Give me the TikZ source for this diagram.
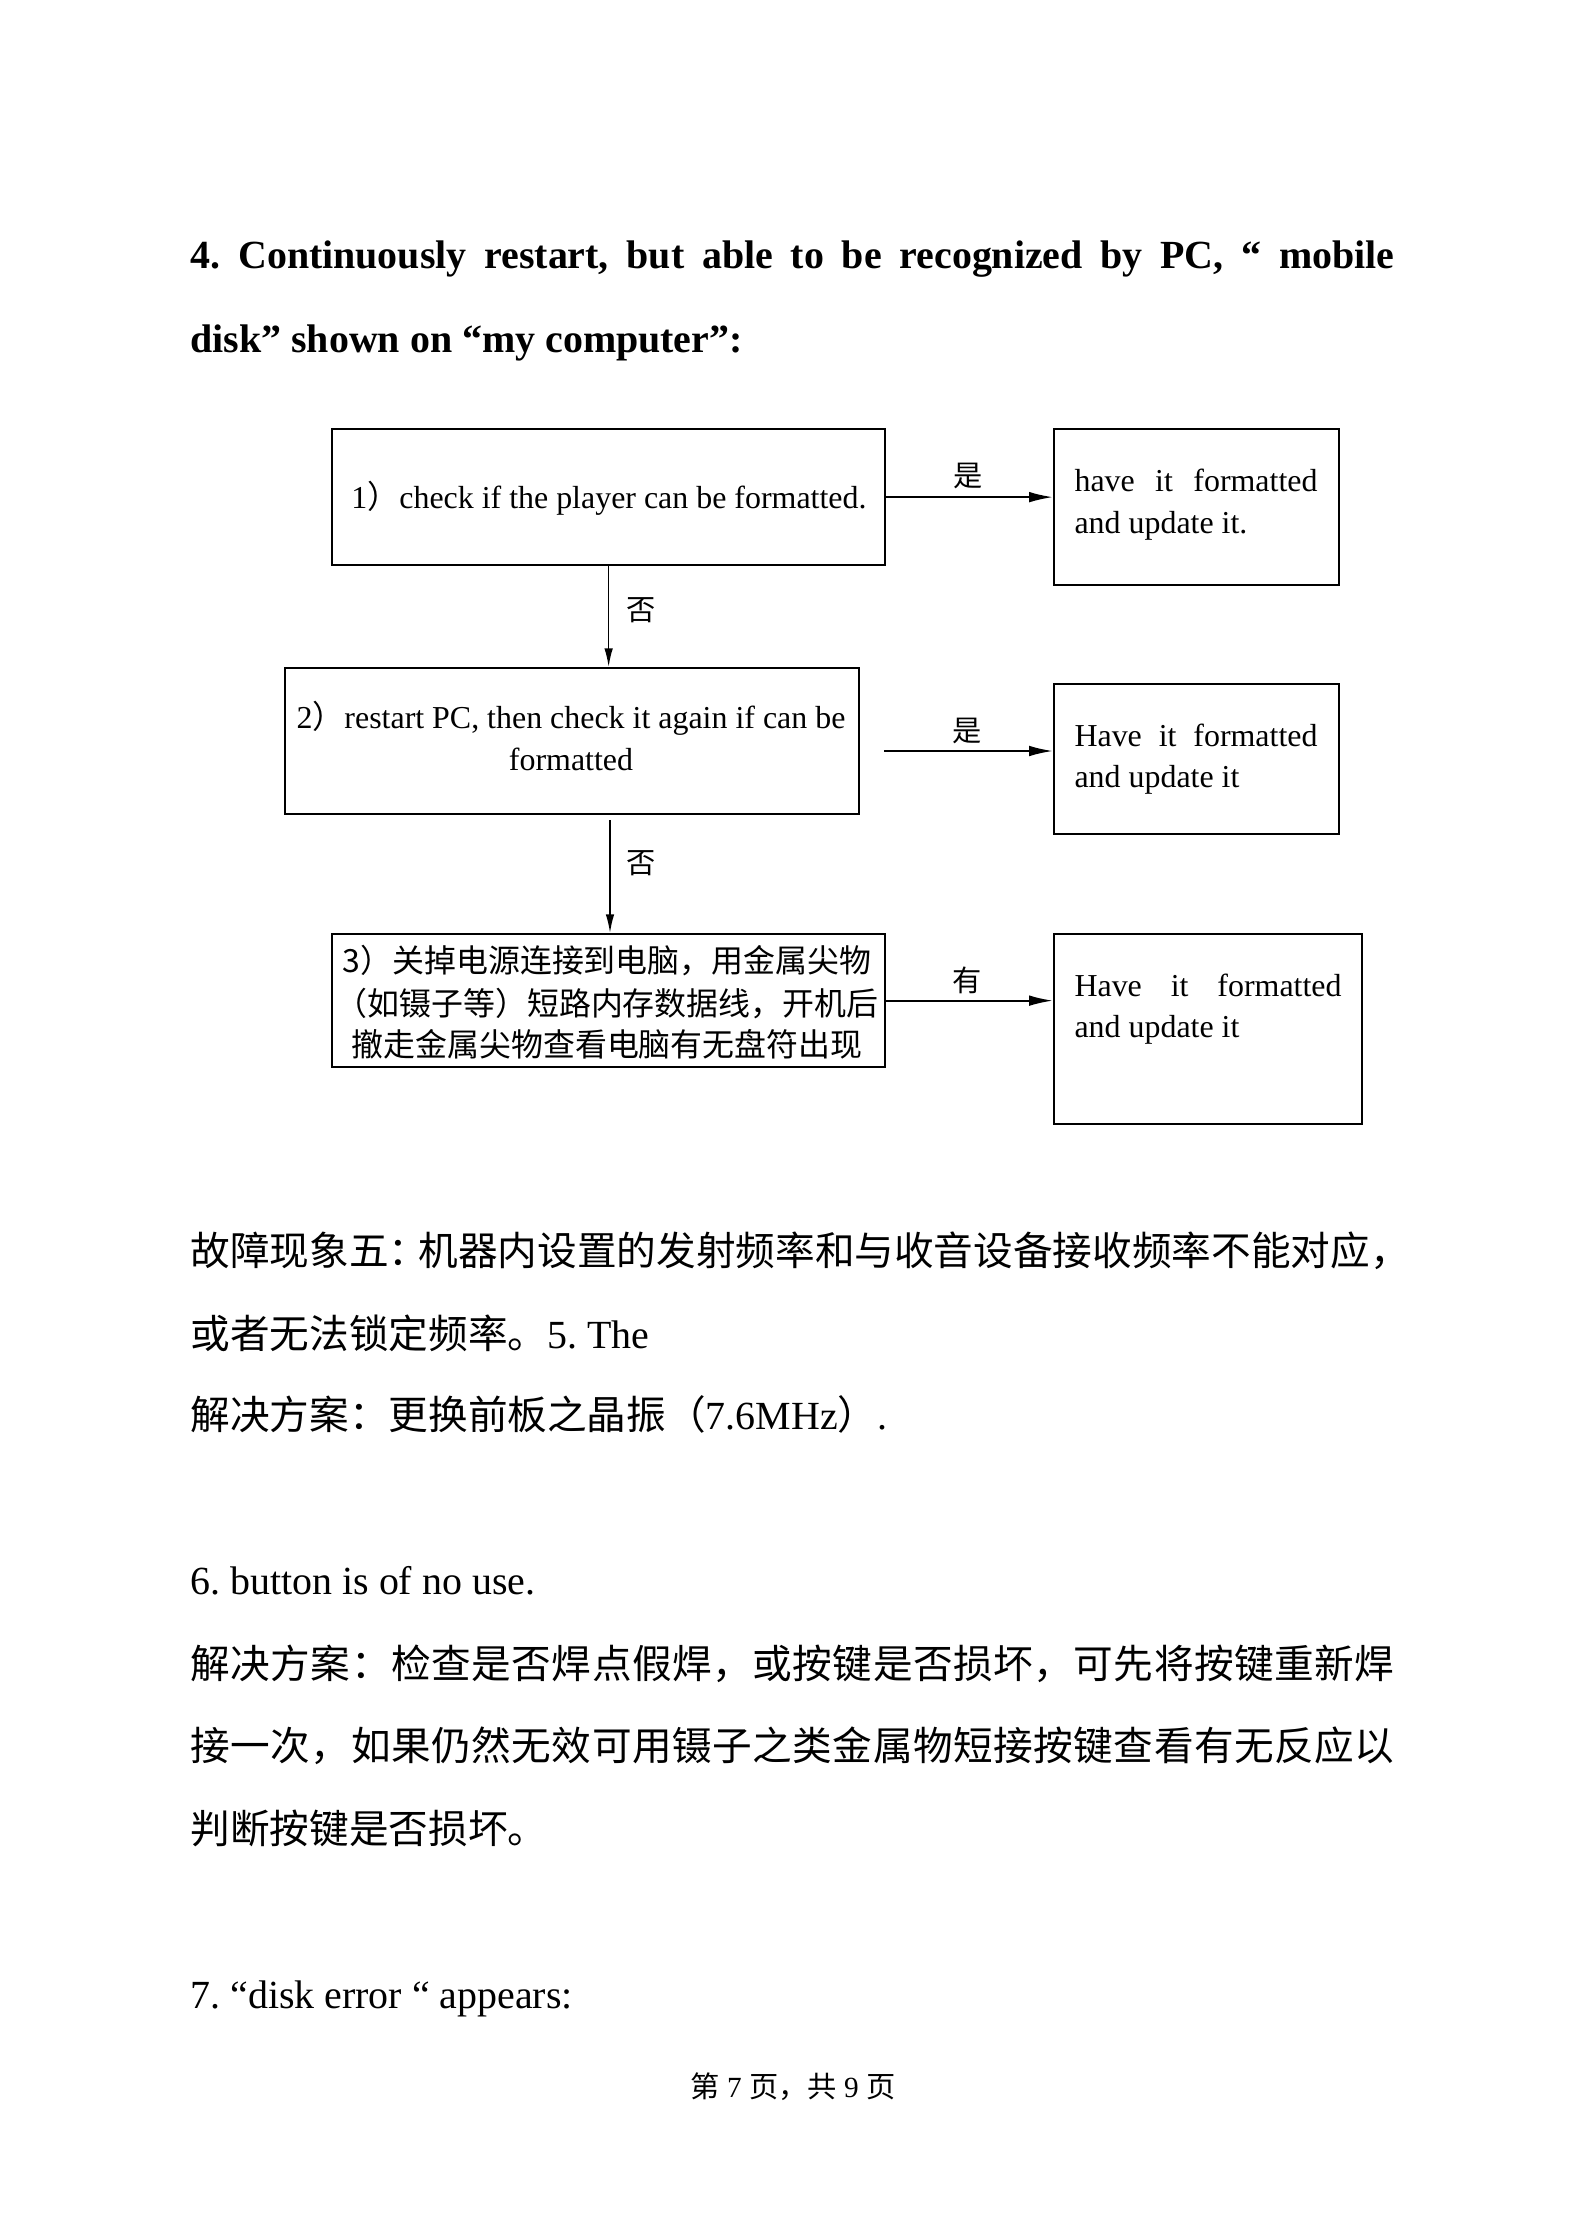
\documentclass[tikz,border=0pt]{standalone}
\usepackage{fontspec}
\setmainfont{Liberation Serif}
\newfontfamily\cjk{Noto Sans CJK SC}
\usetikzlibrary{arrows.meta}
\frenchspacing
\newlength\pxu \setlength\pxu{0.37582pt}
\def\spreadend{\spreadend}
\def\spreadloop#1{\ifx#1\spreadend\else\hfill#1\expandafter\spreadloop\fi}
\def\spreadfirst#1{#1\spreadloop}
\newcommand\spreadline[2]{\hbox to #1{\spreadfirst#2\spreadend}}
\newcommand\ttlf{\fontsize{15pt}{18pt}\selectfont\bfseries}
\newcommand\bodyf{\fontsize{15pt}{18pt}\selectfont}
\newcommand\bodyc{\cjk\fontsize{14.9pt}{18pt}\selectfont}
\newcommand\bxf{\fontsize{12pt}{15pt}\selectfont}
\newcommand\bxc{\cjk\fontsize{12pt}{15pt}\selectfont}
\newcommand\lblc{\cjk\fontsize{11pt}{13pt}\selectfont}
\newcommand\footc{\cjk\fontsize{11pt}{13pt}\selectfont}
\begin{document}
\frenchspacing
\begin{tikzpicture}[x=0.37582pt, y=-0.37582pt,
  box/.style={draw, line width=0.85pt, inner sep=0pt, anchor=north west},
  txt/.style={inner sep=0pt, anchor=base},
  txtw/.style={inner sep=0pt, anchor=base west},
  lbl/.style={inner sep=0pt, anchor=center, font=\lblc},
  arr/.style={-{Latex[length=9pt,width=4pt]}, line width=0.75pt},
  varr/.style={-{Latex[length=7pt,width=3.2pt]}, line width=0.6pt}]
\useasboundingbox[fill=white] (0,0) rectangle (1584,2240);

% title
\node[txtw, font=\ttlf] (h1) at (190,268) {\makebox[1204\pxu][s]{4. Continuously restart, but able to be recognized by PC, “ mobile}};
\node[txtw, font=\ttlf] (h2) at (190,352) {disk” shown on “my computer”:};

% flowchart boxes
\node[box, minimum width=553\pxu, minimum height=136\pxu] (b1) at (331,428) {};
\node[box, minimum width=285\pxu, minimum height=156\pxu] (r1) at (1053,428) {};
\node[box, minimum width=574\pxu, minimum height=146\pxu] (b2) at (284,667) {};
\node[box, minimum width=285\pxu, minimum height=150\pxu] (r2) at (1053,683) {};
\node[box, minimum width=553\pxu, minimum height=133\pxu] (b3) at (331,933) {};
\node[box, minimum width=308\pxu, minimum height=190\pxu] (r3) at (1053,933) {};

% box texts
\node[txt, font=\bxf] (t1) at (609,508.5) {1{\bxc ）}check if the player can be formatted.};
\node[txtw, font=\bxf] (t1a) at (1074,491.5) {\makebox[243\pxu][s]{have it formatted}};
\node[txtw, font=\bxf] (t1b) at (1074,533.5) {and update it.};

\node[txt, font=\bxf] (t2a) at (571,728.5) {2{\bxc ）}restart PC, then check it again if can be};
\node[txt, font=\bxf] (t2b) at (571,770.5) {formatted};
\node[txtw, font=\bxf] (t2c) at (1074,746.5) {\makebox[243\pxu][s]{Have it formatted}};
\node[txtw, font=\bxf] (t2d) at (1074,787.5) {and update it};

\node[txt, font=\bxc] (t3a) at (607,972) {{\bxf 3}）关掉电源连接到电脑，用金属尖物};
\node[txt, font=\bxc] (t3b) at (607,1015) {（如镊子等）短路内存数据线，开机后};
\node[txt, font=\bxc] (t3c) at (607,1056) {撤走金属尖物查看电脑有无盘符出现};
\node[txtw, font=\bxf] (t3d) at (1074,996.5) {\makebox[267\pxu][s]{Have it formatted}};
\node[txtw, font=\bxf] (t3e) at (1074,1037.5) {and update it};

% connectors
\coordinate (a2s) at (884,751);
\coordinate (d2s) at (610,820);
\draw[arr] (b1.east) -- (b1.east -| r1.west);
\draw[arr] (a2s) -- (a2s -| r2.west);
\draw[arr] (b3.east) -- (b3.east -| r3.west);
\draw[varr] (b1.south) -- (b1.south |- b2.north);
\draw[varr] (d2s) -- (d2s |- b3.north);

\node[lbl] (l1) at (968,476) {是};
\node[lbl] (l2) at (641,610) {否};
\node[lbl] (l3) at (967,731) {是};
\node[lbl] (l4) at (641,863) {否};
\node[lbl] (l5) at (967,980) {有};

% body text
\node[txtw, font=\bodyc] (p1) at (190,1265) {故障现象五：\kern-0.25em机器内设置的发射频率和与收音设备接收频率不能对应，};
\node[txtw, font=\bodyf] (p2) at (190,1348) {{\bodyc 或者无法锁定频率。}5. The};
\node[txtw, font=\bodyf] (p3) at (190,1429) {{\bodyc 解决方案：更换前板之晶振（}7.6MHz{\bodyc ）}.};
\node[txtw, font=\bodyf] (p4) at (190,1594) {6. button is of no use.};
\node[txtw, font=\bodyc] (p5) at (190,1678) {\spreadline{1204\pxu}{解决方案：检查是否焊点假焊，或按键是否损坏，可先将按键重新焊}};
\node[txtw, font=\bodyc] (p6) at (190,1760) {\spreadline{1204\pxu}{接一次，如果仍然无效可用镊子之类金属物短接按键查看有无反应以}};
\node[txtw, font=\bodyc] (p7) at (190,1843) {判断按键是否损坏。};
\node[txtw, font=\bodyf] (p8) at (190,2008) {7. “disk error “ appears:};

% footer
\node[txt, font=\fontsize{11pt}{13pt}\selectfont] (ft) at (793,2097) {{\footc 第} 7 {\footc 页，共} 9 {\footc 页}};
\end{tikzpicture}
\end{document}
